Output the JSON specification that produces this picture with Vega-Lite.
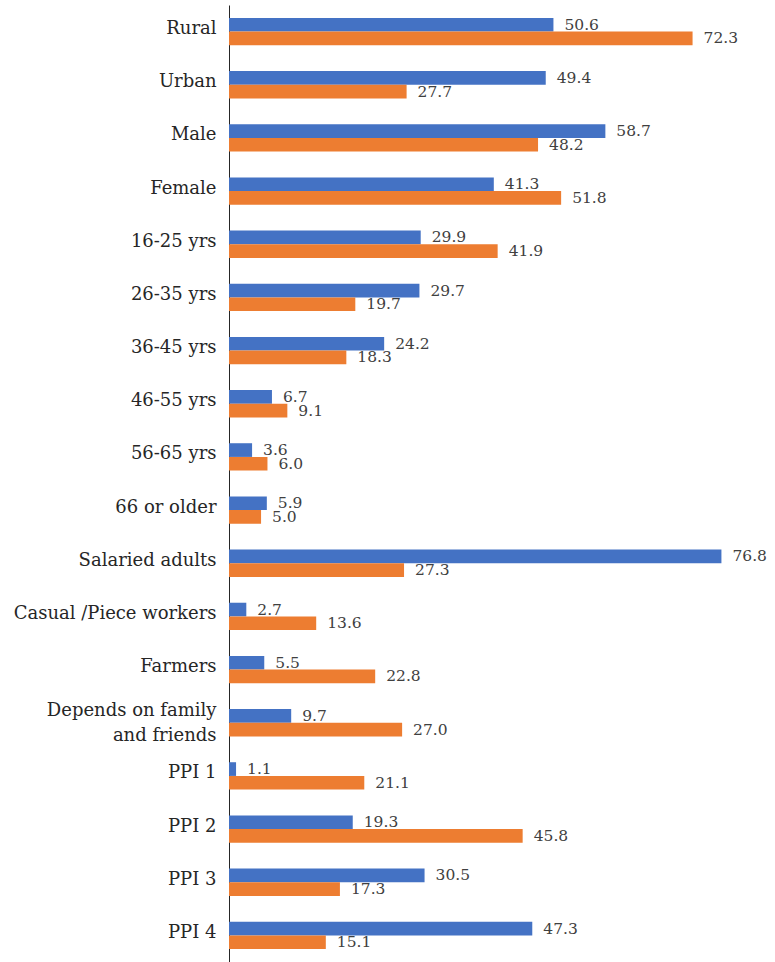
{
  "$schema": "https://vega.github.io/schema/vega-lite/v6.json",
  "width": 545,
  "height": 957,
  "autosize": {"type": "none"},
  "padding": {"left": 229, "top": 5, "right": 1, "bottom": 0},
  "background": "white",
  "config": {
    "view": {"stroke": null},
    "font": "DejaVu Serif"
  },
  "data": {
    "values": [
      {"group": "Rural", "series": "Series1", "value": 50.6},
      {"group": "Rural", "series": "Series2", "value": 72.3},
      {"group": "Urban", "series": "Series1", "value": 49.4},
      {"group": "Urban", "series": "Series2", "value": 27.7},
      {"group": "Male", "series": "Series1", "value": 58.7},
      {"group": "Male", "series": "Series2", "value": 48.2},
      {"group": "Female", "series": "Series1", "value": 41.3},
      {"group": "Female", "series": "Series2", "value": 51.8},
      {"group": "16-25 yrs", "series": "Series1", "value": 29.9},
      {"group": "16-25 yrs", "series": "Series2", "value": 41.9},
      {"group": "26-35 yrs", "series": "Series1", "value": 29.7},
      {"group": "26-35 yrs", "series": "Series2", "value": 19.7},
      {"group": "36-45 yrs", "series": "Series1", "value": 24.2},
      {"group": "36-45 yrs", "series": "Series2", "value": 18.3},
      {"group": "46-55 yrs", "series": "Series1", "value": 6.7},
      {"group": "46-55 yrs", "series": "Series2", "value": 9.1},
      {"group": "56-65 yrs", "series": "Series1", "value": 3.6},
      {"group": "56-65 yrs", "series": "Series2", "value": 6.0},
      {"group": "66 or older", "series": "Series1", "value": 5.9},
      {"group": "66 or older", "series": "Series2", "value": 5.0},
      {"group": "Salaried adults", "series": "Series1", "value": 76.8},
      {"group": "Salaried adults", "series": "Series2", "value": 27.3},
      {"group": "Casual /Piece workers", "series": "Series1", "value": 2.7},
      {"group": "Casual /Piece workers", "series": "Series2", "value": 13.6},
      {"group": "Farmers", "series": "Series1", "value": 5.5},
      {"group": "Farmers", "series": "Series2", "value": 22.8},
      {"group": "Depends on family and friends", "series": "Series1", "value": 9.7},
      {"group": "Depends on family and friends", "series": "Series2", "value": 27.0},
      {"group": "PPI 1", "series": "Series1", "value": 1.1},
      {"group": "PPI 1", "series": "Series2", "value": 21.1},
      {"group": "PPI 2", "series": "Series1", "value": 19.3},
      {"group": "PPI 2", "series": "Series2", "value": 45.8},
      {"group": "PPI 3", "series": "Series1", "value": 30.5},
      {"group": "PPI 3", "series": "Series2", "value": 17.3},
      {"group": "PPI 4", "series": "Series1", "value": 47.3},
      {"group": "PPI 4", "series": "Series2", "value": 15.1}
    ]
  },
  "encoding": {
    "y": {
      "field": "group",
      "type": "nominal",
      "sort": null,
      "scale": {"paddingInner": 0.485, "paddingOuter": 0.2425},
      "axis": {
        "title": null,
        "ticks": false,
        "tickSize": 0,
        "grid": false,
        "labelPadding": 13,
        "labelFont": "DejaVu Serif",
        "labelFontSize": 18,
        "labelColor": "#262626",
        "labelLimit": 400,
        "labelLineHeight": 25,
        "labelOffset": {
          "condition": {"test": "datum.value == 'Depends on family and friends'", "value": -12},
          "value": -2.5
        },
        "labelExpr": "datum.label == 'Depends on family and friends' ? ['Depends on family', 'and friends'] : datum.label",
        "domainColor": "#262626",
        "domainWidth": 1
      }
    },
    "yOffset": {
      "field": "series",
      "type": "nominal",
      "sort": ["Series1", "Series2"]
    },
    "x": {
      "field": "value",
      "type": "quantitative",
      "scale": {"domain": [0, 85], "nice": false, "zero": true},
      "axis": null
    }
  },
  "layer": [
    {
      "mark": {"type": "bar"},
      "encoding": {
        "color": {
          "field": "series",
          "type": "nominal",
          "scale": {"domain": ["Series1", "Series2"], "range": ["#4472C4", "#ED7D31"]},
          "legend": null
        }
      }
    },
    {
      "mark": {
        "type": "text",
        "align": "left",
        "baseline": "middle",
        "dx": 11,
        "font": "DejaVu Serif",
        "fontSize": 15.5,
        "color": "#404040"
      },
      "encoding": {
        "text": {"field": "value", "type": "quantitative", "format": ".1f"}
      }
    }
  ]
}
